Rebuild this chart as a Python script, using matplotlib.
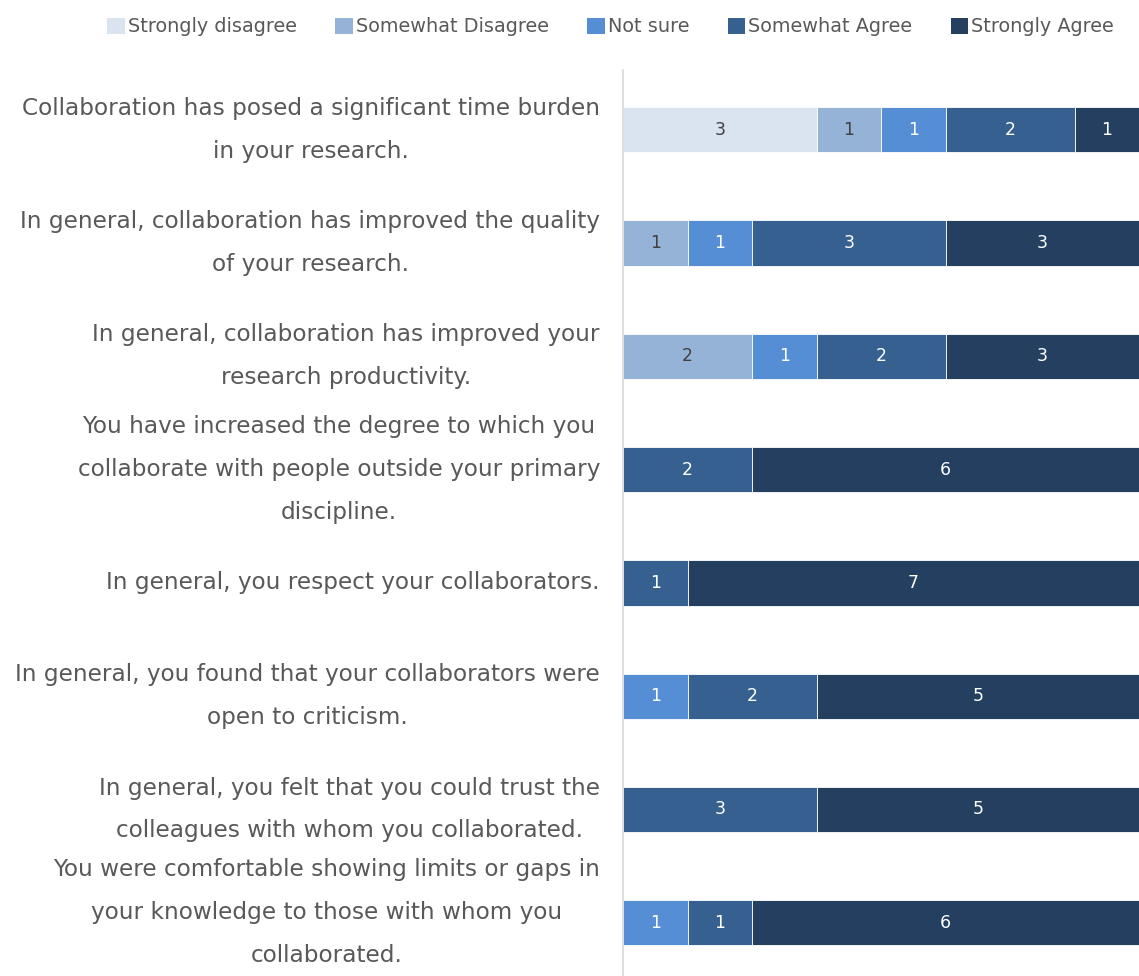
import numpy as np
import matplotlib.pyplot as plt
import matplotlib.transforms as mtransforms
from matplotlib.patches import Patch

plt.rcParams['font.family'] = ['DejaVu Sans']

categories = [
    "Collaboration has posed a significant time burden\nin your research.",
    "In general, collaboration has improved the quality\nof your research.",
    "In general, collaboration has improved your\nresearch productivity.",
    "You have increased the degree to which you\ncollaborate with people outside your primary\ndiscipline.",
    "In general, you respect your collaborators.",
    "In general, you found that your collaborators were\nopen to criticism.",
    "In general, you felt that you could trust the\ncolleagues with whom you collaborated.",
    "You were comfortable showing limits or gaps in\nyour knowledge to those with whom you\ncollaborated.",
]
series = ["Strongly disagree", "Somewhat Disagree", "Not sure", "Somewhat Agree", "Strongly Agree"]
strongly_disagree = [3, 0, 0, 0, 0, 0, 0, 0]
somewhat_disagree = [1, 1, 2, 0, 0, 0, 0, 0]
not_sure = [1, 1, 1, 0, 0, 1, 0, 1]
somewhat_agree = [2, 3, 2, 2, 1, 2, 3, 1]
strongly_agree = [1, 3, 3, 6, 7, 5, 5, 6]

colors = ["#DAE3F0", "#95B3D7", "#558ED5", "#36608F", "#243F60"]
text_colors = ["#404040", "#404040", "white", "white", "white"]

fig = plt.figure(figsize=(11.39, 9.76), dpi=100)
ax = fig.add_axes([0.547, 0.0, 0.453, 0.928])

y = np.arange(len(categories))
left = np.zeros(len(categories))
for name, vals, c, tc in zip(series,
                             [strongly_disagree, somewhat_disagree, not_sure, somewhat_agree, strongly_agree],
                             colors, text_colors):
    vals = np.array(vals, dtype=float)
    bars = ax.barh(y, vals, left=left, height=0.4, color=c, edgecolor="white", linewidth=0.6)
    for b, v in zip(bars, vals):
        if v > 0:
            ax.text(b.get_x() + b.get_width() / 2, b.get_y() + b.get_height() / 2, "%d" % v,
                    ha="center", va="center", color=tc, fontsize=12.5)
    left += vals

ax.set_xlim(0, 8)
ax.set_ylim(7.47, -0.525)
ax.set_yticks([])
ax.set_xticks([])

# category labels, right edge at ~600 px, lines centred within each block
trans = mtransforms.blended_transform_factory(fig.transFigure, ax.transData)
for i, lab in enumerate(categories):
    t = trans
    if i == len(categories) - 1:
        # last block sits a little higher so it stays inside the picture
        t = mtransforms.offset_copy(trans, fig=fig, y=10, units="dots")
    ax.text(600 / 1139, i, lab, transform=t, ha="right", va="center", multialignment="center",
            fontsize=16.7, color="#595959", linespacing=2.1)

for s in ["top", "right", "bottom"]:
    ax.spines[s].set_visible(False)
ax.spines["left"].set_color("#D9D9D9")
ax.spines["left"].set_linewidth(1.2)

handles = [Patch(facecolor=c, label=n) for n, c in zip(series, colors)]
fig.legend(handles=handles, loc="upper right", bbox_to_anchor=(0.993, 1.0), ncol=5, frameon=False,
           fontsize=13.9, handlelength=0.9, handleheight=0.9, handletextpad=0.15, columnspacing=2.0,
           labelcolor="#595959")

fig.savefig("out.png", dpi=100)
